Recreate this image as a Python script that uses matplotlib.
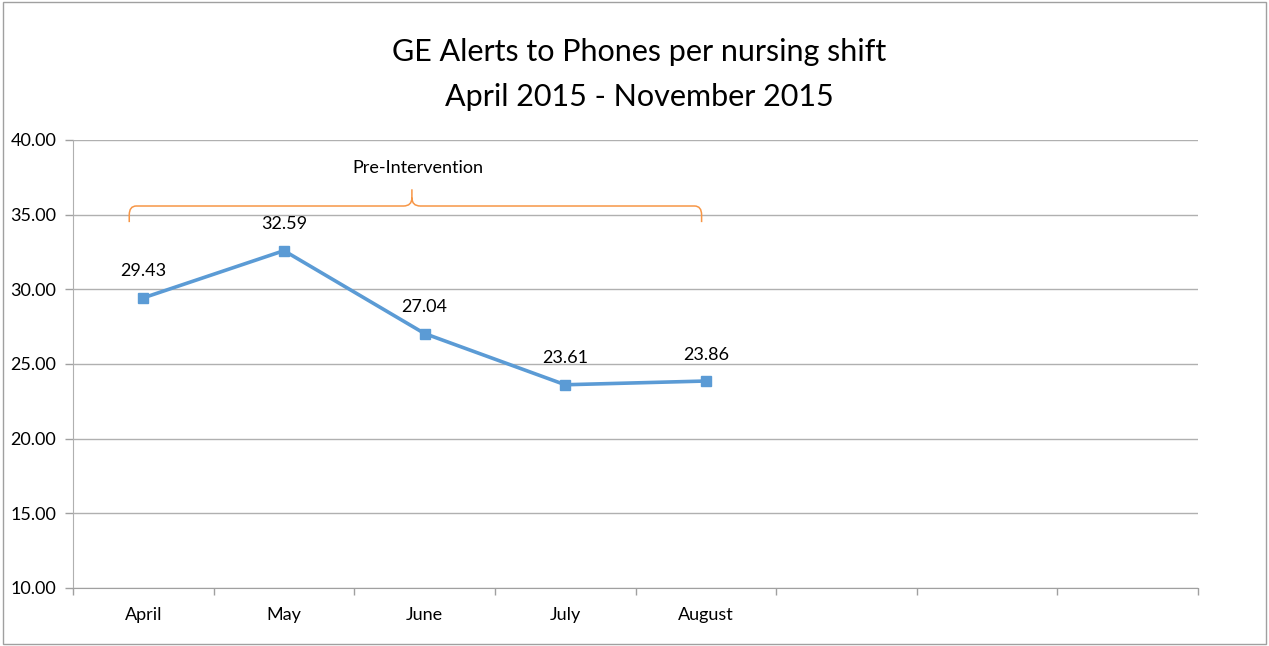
import matplotlib.pyplot as plt
from matplotlib.patches import Rectangle, PathPatch
from matplotlib.path import Path
import numpy as np

# data
months = ["April", "May", "June", "July", "August", "", "", ""]
alerts = [29.43, 32.59, 27.04, 23.61, 23.86]
yticks = [10, 15, 20, 25, 30, 35, 40]

plt.rcParams['font.family'] = ['Lato', 'DejaVu Sans']

fig = plt.figure(figsize=(12.69, 6.46), dpi=100)
ax = fig.add_axes([73 / 1269, 1 - 588 / 646, (1198 - 73) / 1269, (588 - 140) / 646])

n = len(months)
x = np.arange(len(alerts))
blue = '#5b9bd5'
ax.plot(x, alerts, color=blue, lw=2.6, marker='s', ms=7.5, solid_capstyle='round')
for xi, v in zip(x, alerts):
    ax.annotate(f"{v:.2f}", (xi, v), xytext=(0, 19), textcoords='offset points',
                ha='center', va='center', fontsize=13)

ax.set_xlim(-0.5, n - 0.5)
ax.set_ylim(10, 40)
ax.set_yticks(yticks)
ax.set_yticklabels([f"{t:.2f}" for t in yticks], fontsize=13)
ax.set_xticks(np.arange(n))
ax.set_xticklabels(months, fontsize=13)
ax.set_xticks(np.arange(n + 1) - 0.5, minor=True)
ax.tick_params(axis='x', which='major', length=0, pad=14)
ax.tick_params(axis='x', which='minor', length=5, color='#a0a0a0', width=1)
ax.tick_params(axis='y', length=6, color='#a0a0a0', width=1, pad=6)
ax.yaxis.grid(True, color='#b0b0b0', lw=1)
ax.set_axisbelow(True)
for s in ['top', 'right']:
    ax.spines[s].set_visible(False)
ax.spines['left'].set_color('#b0b0b0')
ax.spines['bottom'].set_color('#a0a0a0')

# curly brace over the pre-intervention months
orange = '#f79646'
xl, xr, xm = -0.1, 3.97, 1.91
yt, ye, yp = 35.58, 34.5, 36.7
rx, ry = 0.05, 0.6
mx, my = 0.06, 0.55
verts = [(xl, ye), (xl, yt - ry), (xl, yt), (xl + rx, yt),
         (xm - mx, yt), (xm, yt), (xm, yt + my), (xm, yp),
         (xm, yt + my), (xm, yt), (xm + mx, yt),
         (xr - rx, yt), (xr, yt), (xr, yt - ry), (xr, ye)]
codes = [Path.MOVETO, Path.LINETO, Path.CURVE3, Path.CURVE3,
         Path.LINETO, Path.CURVE3, Path.CURVE3, Path.LINETO,
         Path.MOVETO, Path.CURVE3, Path.CURVE3,
         Path.LINETO, Path.CURVE3, Path.CURVE3, Path.LINETO]
ax.add_patch(PathPatch(Path(verts, codes), fill=False, edgecolor=orange, lw=1.1, clip_on=False))
ax.text(xm + 0.04, 38.1, "Pre-Intervention", ha='center', va='center', fontsize=13)

fig.text(0.504, 1 - 52 / 646, "GE Alerts to Phones per nursing shift", ha='center', va='center', fontsize=22)
fig.text(0.504, 1 - 97 / 646, "April 2015 - November 2015", ha='center', va='center', fontsize=22)

fig.patches.append(Rectangle((0.002, 0.003), 0.996, 0.994, transform=fig.transFigure,
                             fill=False, edgecolor='#a0a0a0', lw=1))

fig.savefig("out.png", dpi=100)
